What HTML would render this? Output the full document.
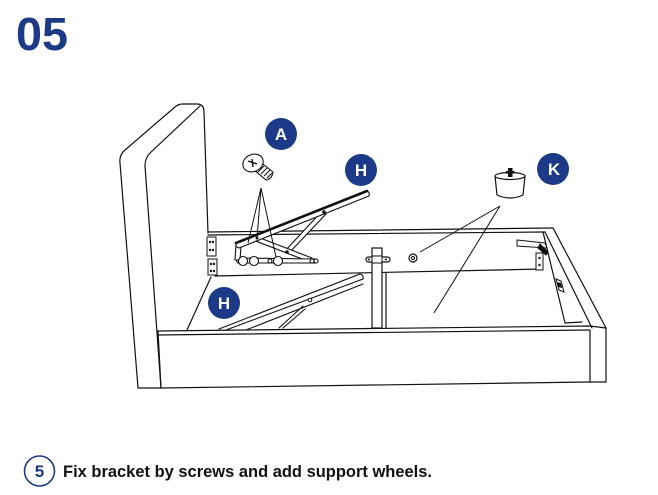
<!DOCTYPE html>
<html>
<head>
<meta charset="utf-8">
<style>
  html,body{margin:0;padding:0;background:#fff;}
  body{width:658px;height:495px;overflow:hidden;}
  svg{display:block;}
</style>
</head>
<body>
<svg width="658" height="495" viewBox="0 0 658 495" xmlns="http://www.w3.org/2000/svg">
  <!-- Step number -->
  <text x="16" y="50" font-family="Liberation Sans, sans-serif" font-weight="bold" font-size="46" fill="#1c3a87" textLength="52" lengthAdjust="spacingAndGlyphs">05</text>

  <g fill="none" stroke="#111" stroke-width="1.2" stroke-linejoin="round" stroke-linecap="round">
    <!-- Headboard -->
    <path d="M138,388 L120,163 Q119,155 125,150 L175,107 Q178,104 183,104 L197,104 Q204,104 204,112 L208,233" />
    <path d="M161,388 L145,166 Q145,158 150,153 L200,106" />
    <path d="M138,388 L161,388" />

    <!-- Back rail -->
    <path d="M208,232 L553,228" />
    <path d="M208,235 L545,232" />
    <path d="M215,276 L543,269" />
    <!-- left inner diagonal -->
    <path d="M211,277 L187,330" />

    <!-- Right side rail -->
    <path d="M553,228 L606,328" />
    <path d="M545,232 L592,328" />
    <path d="M543,232 L565,323 L582,322" />

    <!-- Front rail -->
    <path d="M158,331 L590,326 L606,328" />
    <path d="M158,335 L590,330" />
    <path d="M158,331 L161,388 L590,382 L606,382" />
    <path d="M590,330 L590,382" />
    <path d="M606,328 L606,382" />
  </g>

  <!-- Left brackets near headboard -->
  <g fill="#fff" stroke="#111" stroke-width="1">
    <rect x="207" y="237" width="9" height="19"/>
    <rect x="208" y="259" width="9" height="16"/>
  </g>
  <g fill="#111">
    <circle cx="210" cy="242" r="1.2"/><circle cx="213" cy="242" r="1.2"/>
    <circle cx="210" cy="250" r="1.2"/><circle cx="213" cy="250" r="1.2"/>
    <circle cx="211" cy="264" r="1.2"/><circle cx="214" cy="264" r="1.2"/>
    <circle cx="211" cy="271" r="1.2"/><circle cx="214" cy="271" r="1.2"/>
  </g>

  <!-- Center post -->
  <g fill="#fff" stroke="#111" stroke-width="1.2">
    <rect x="372" y="248" width="10" height="80"/>
    <path d="M386,273 L386,328" fill="none"/>
    <rect x="366" y="257" width="24" height="5" rx="2.5"/>
  </g>
  <rect x="372" y="256" width="10" height="7" fill="#fff" stroke="#111" stroke-width="1"/>
  <circle cx="369" cy="259.5" r="1" fill="#111"/>
  <circle cx="386" cy="259.5" r="1" fill="#111"/>

  <!-- Round fitting on back rail -->
  <circle cx="413" cy="258" r="4" fill="#fff" stroke="#111" stroke-width="1.2"/>
  <circle cx="413" cy="258" r="1.5" fill="none" stroke="#111" stroke-width="1"/>

  <!-- Right corner brackets -->
  <g fill="#fff" stroke="#111" stroke-width="1">
    <path d="M517,240 L545,243 L547,248 L517,246 Z"/>
    <path d="M540,244 L548,252 L546,255 L538,248 Z" fill="#111"/>
    <rect x="536" y="253" width="7" height="17"/>
    <path d="M556,279 L561,281 L564,292 L559,290 Z"/>
  </g>
  <g fill="#111">
    <circle cx="539.5" cy="258" r="1.2"/><circle cx="539.5" cy="265" r="1.2"/>
    <path d="M557,282 L561,283 L562,288 L558,287 Z"/>
  </g>

  <!-- Upper lift mechanism (H) -->
  <g stroke="#111" stroke-width="1.1" fill="#fff" stroke-linejoin="round" stroke-linecap="round">
    <path d="M322,211 L285,251 L289,253 L326,214 Z"/>
    <path d="M255,236 L312,258 L310,262 L253,240 Z"/>
    <path d="M238,258 L316,259 Q319,261 316,263 L238,263 Q235,260.5 238,258 Z"/>
    <path d="M236,245 L235,260 L240,260 L241,246 Z"/>
    <path d="M236,243 L367,191 Q370,192 369,196 L239,248 Q235,247 236,243 Z"/>
  </g>
  <path d="M236,243 L367,191" stroke="#111" stroke-width="2.6" stroke-linecap="round"/>
  <g fill="#fff" stroke="#111" stroke-width="1.1">
    <circle cx="243" cy="261" r="4.5"/>
    <circle cx="254" cy="261" r="4.5"/>
    <circle cx="278" cy="261" r="4.5"/>
    <circle cx="270" cy="261" r="2"/>
    <circle cx="312" cy="261" r="2"/>
    <circle cx="316" cy="261" r="2"/>
  </g>
  <g fill="#111">
    <circle cx="324" cy="212" r="1.8"/>
    <circle cx="287" cy="252" r="1.8"/>
    <circle cx="257" cy="238" r="1.5"/>
  </g>

  <!-- Screw A pointer lines -->
  <g stroke="#111" stroke-width="1" fill="none">
    <path d="M261,188 L248,243"/>
    <path d="M261,188 L257,238"/>
    <path d="M261,188 L276,257"/>
  </g>

  <!-- Screw A -->
  <g stroke="#111" stroke-width="1.1" fill="#fff" stroke-linejoin="round">
    <path d="M259,161 L273,172 Q272,179 266,180 L253,169 Z"/>
    <path d="M261,164 L256,170 M264,166 L258,172 M267,168 L261,174 M270,170 L264,176 M272,173 L267,178" fill="none" stroke-width="1"/>
    <ellipse cx="253" cy="163" rx="10.5" ry="8.5" transform="rotate(-25 253 163)"/>
    <path d="M248,161 L257,164 M252,159 L253,167" fill="none" stroke-width="1.4"/>
  </g>

  <!-- Wheel K -->
  <g stroke="#111" stroke-width="1.2" fill="#fff" stroke-linejoin="round">
    <path d="M495,176 L497,195 Q510,201 523,195 L525,176 Z"/>
    <ellipse cx="510" cy="176" rx="15" ry="3.5"/>
  </g>
  <rect x="508" y="168" width="4.5" height="9" fill="#111"/>
  <rect x="506" y="171" width="8.5" height="2.5" fill="#111"/>
  <g stroke="#111" stroke-width="1" fill="none">
    <path d="M500,206 L420,252"/>
    <path d="M500,206 L434,313"/>
  </g>

  <!-- Lower lift mechanism (H) -->
  <g stroke="#111" stroke-width="1.1" fill="none" stroke-linecap="round">
    <path d="M219,329 L360,274 Q364,275 363,279"/>
    <path d="M226,330 L363,279"/>
    <path d="M246,330 L363,284"/>
    <path d="M279,328 L303,306"/>
    <path d="M283,328 L305,309"/>
  </g>
  <circle cx="310" cy="300" r="1.8" fill="#fff" stroke="#111" stroke-width="1"/>

  <!-- Label circles -->
  <g fill="#1c3a87">
    <circle cx="281" cy="134" r="16"/>
    <circle cx="361" cy="170" r="16"/>
    <circle cx="553" cy="169" r="16"/>
    <circle cx="224" cy="303" r="16"/>
  </g>
  <g fill="#fff" font-family="Liberation Sans, sans-serif" font-weight="bold" font-size="17" text-anchor="middle">
    <text x="281" y="140">A</text>
    <text x="361" y="176">H</text>
    <text x="554" y="175">K</text>
    <text x="224" y="309">H</text>
  </g>

  <!-- Instruction -->
  <circle cx="39.5" cy="471" r="15" fill="#fff" stroke="#1c3a87" stroke-width="1.6"/>
  <text x="39.5" y="477" text-anchor="middle" font-family="Liberation Sans, sans-serif" font-weight="bold" font-size="17" fill="#1c3a87">5</text>
  <text x="63" y="477" font-family="Liberation Sans, sans-serif" font-weight="bold" font-size="17" fill="#111" textLength="369" lengthAdjust="spacingAndGlyphs">Fix bracket by screws and add support wheels.</text>
</svg>
</body>
</html>
